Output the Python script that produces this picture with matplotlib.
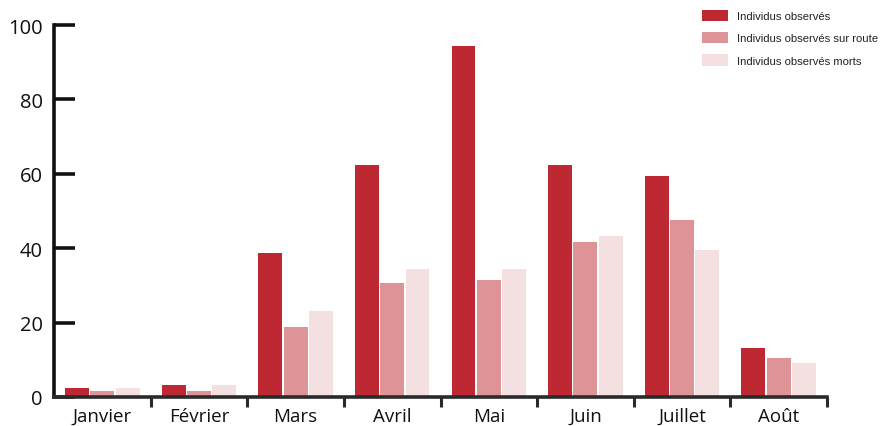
import matplotlib
matplotlib.use("Agg")
import matplotlib.pyplot as plt
import numpy as np

months = ["Janvier", "Février", "Mars", "Avril", "Mai", "Juin", "Juillet", "Août"]
observes = [2.3, 3.2, 38.7, 62.4, 94.4, 62.3, 59.3, 13.3]
sur_route = [1.5, 1.5, 18.8, 30.6, 31.5, 41.6, 47.5, 10.4]
morts = [2.3, 3.2, 23.1, 34.4, 34.4, 43.2, 39.4, 9.1]
series_labels = ["Individus observés", "Individus observés sur route", "Individus observés morts"]
colors = ["#BD2832", "#DE9397", "#F4DFE1"]
yticks = [0, 20, 40, 60, 80, 100]

W, H = 883, 427
fig = plt.figure(figsize=(W / 100, H / 100), dpi=100)
ax = fig.add_axes([54 / W, 1 - 398 / H, (827 - 54) / W, (398 - 26) / H])

x = np.arange(len(months)) + 0.5
bw = 0.248
step = 0.262
for i, (vals, c, lab) in enumerate(zip([observes, sur_route, morts], colors, series_labels)):
    ax.bar(x + (i - 1) * step, vals, width=bw, color=c, label=lab, zorder=2)

ax.set_xlim(0, len(months))
ax.set_ylim(0, 100)

for s in ["top", "right"]:
    ax.spines[s].set_visible(False)
ax.spines["left"].set_linewidth(2.6)
ax.spines["left"].set_color("#111111")
ax.spines["bottom"].set_linewidth(2.6)
ax.spines["bottom"].set_color("#2a2a2a")

font = ["Open Sans", "DejaVu Sans"]
ax.set_yticks(yticks)
ax.set_yticklabels([str(v) for v in yticks], family=font, fontsize=14.5, color="#111111")
ax.tick_params(axis="y", direction="in", length=15, width=2.6, color="#111111", pad=8)

ax.set_xticks(np.arange(1, len(months) + 1))
ax.set_xticklabels([""] * len(months))
ax.tick_params(axis="x", which="major", direction="out", length=7, width=2.2, color="#2a2a2a")
ax.set_xticks(x, minor=True)
ax.set_xticklabels(months, minor=True, family=font, fontsize=13.5, color="#111111")
ax.tick_params(axis="x", which="minor", length=0, pad=7)

leg = ax.legend(loc="upper left", bbox_to_anchor=(696 / W, 1 - 5 / H), bbox_transform=fig.transFigure,
                frameon=False, borderpad=0, handlelength=2.3, handleheight=1.15,
                handletextpad=0.85, labelspacing=0.98,
                prop={"family": ["Liberation Sans", "DejaVu Sans"], "size": 8.1})
for t in leg.get_texts():
    t.set_color("#222222")

fig.savefig("out.png", dpi=100)
